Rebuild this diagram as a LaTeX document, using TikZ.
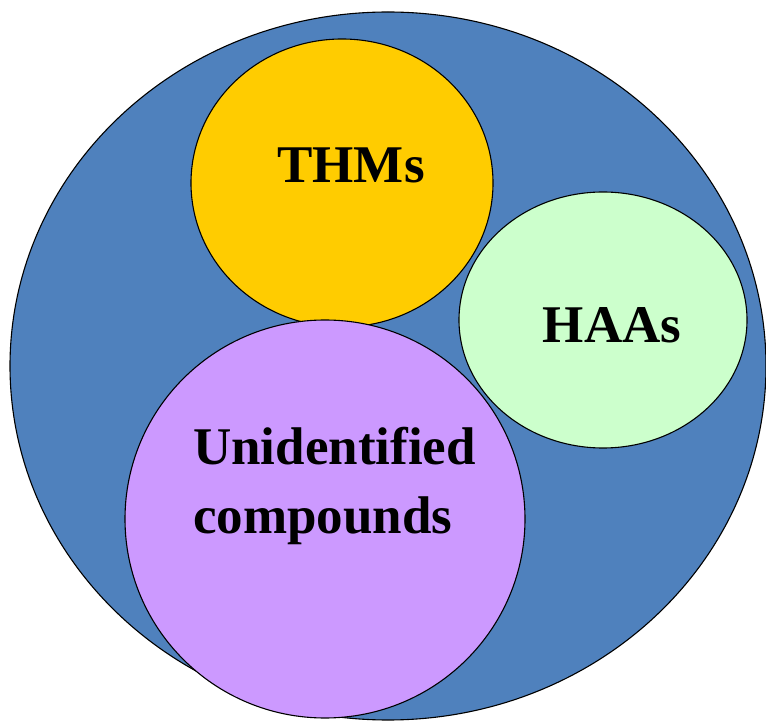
\documentclass[tikz,border=0pt]{standalone}
\usepackage{fontspec}
\setmainfont{Liberation Serif}
\usetikzlibrary{shapes.geometric}

\definecolor{dbpblue}{HTML}{4F81BD}
\definecolor{thmyellow}{HTML}{FFCC00}
\definecolor{haagreen}{HTML}{CCFFCC}
\definecolor{unkpurple}{HTML}{CC99FF}

\begin{document}
\begin{tikzpicture}[x=1pt,y=1pt,
  blob/.style={ellipse, draw=black, line width=1.1pt, inner sep=0pt},
  lbl/.style={font=\fontsize{53}{69}\selectfont\bfseries, inner sep=0pt}]
\useasboundingbox (0,0) rectangle (766,721);
\node[blob, fill=dbpblue, minimum width=756pt, minimum height=708pt] (total) at (388,355) {};
\node[blob, fill=thmyellow, minimum width=302pt, minimum height=288pt] (thm) at (342,538) {};
\node[blob, fill=haagreen, minimum width=288pt, minimum height=256pt] (haa) at (603,401) {};
\node[blob, fill=unkpurple, minimum width=400pt, minimum height=398pt] (unk) at (325,202) {};
%labels
\node[lbl] (thmtext) at (351,556) {THMs};
\node[lbl] (haatext) at (612,396) {HAAs};
\node[lbl, align=left, anchor=west] (unktext) at (193,235) {Unidentified\\compounds};
\end{tikzpicture}
\end{document}
